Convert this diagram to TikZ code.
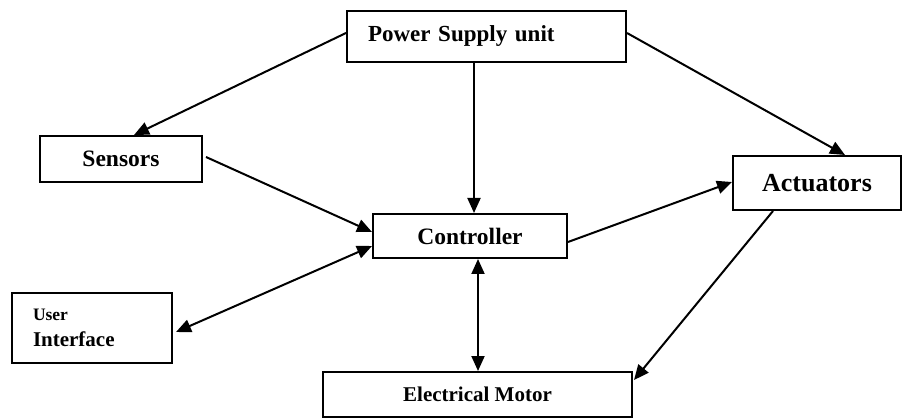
\documentclass[tikz,border=0pt]{standalone}
\usepackage{fontspec}
\setmainfont{Liberation Serif}
\usetikzlibrary{arrows.meta}

\begin{document}
\begin{tikzpicture}[x=1pt,y=-1pt,line width=2pt,
  box/.style={draw,inner sep=0pt,font=\bfseries},
  conn/.style={-{Triangle[length=15pt,width=13pt]}},
  both/.style={{Triangle[length=15pt,width=13pt]}-{Triangle[length=15pt,width=13pt]}}]
\useasboundingbox (0,0) rectangle (904,419);
% blocks
\node[box,minimum width=279pt,minimum height=51pt,inner xsep=21pt,text width=237pt,align=left,font=\bfseries\fontsize{23}{27}\selectfont] (ps) at (486.5,36.5) {Power Supply unit};
\node[box,minimum width=162pt,minimum height=46pt,font=\bfseries\fontsize{23.5}{27}\selectfont] (sen) at (121,159) {Sensors};
\node[box,minimum width=194pt,minimum height=44pt,font=\bfseries\fontsize{23.5}{27}\selectfont] (ctrl) at (470,236) {Controller};
\node[box,minimum width=168pt,minimum height=54pt,font=\bfseries\fontsize{26}{30}\selectfont] (act) at (817,183) {Actuators};
\node[box,minimum width=309pt,minimum height=45pt,font=\bfseries\fontsize{21}{25}\selectfont] (em) at (477.5,394.5) {Electrical Motor};
\node[box,minimum width=160pt,minimum height=70pt,inner xsep=21pt,text width=118pt,align=left,font=\bfseries\fontsize{21}{26}\selectfont] (ui) at (92,328) {{\fontsize{17.5}{26}\selectfont User}\\Interface};
% links
\draw[conn] ([yshift=3.5pt]ps.west) -- ([xshift=13pt]sen.north);
\draw[conn] ([xshift=-12.5pt]ps.south) -- ([xshift=4pt]ctrl.north);
\draw[conn] ([yshift=3.5pt]ps.east) -- ([xshift=28pt]act.north);
\draw[conn] ([xshift=3pt,yshift=2pt]sen.east) -- ([yshift=4pt]ctrl.west);
\draw[both] ([xshift=3pt,yshift=-4pt]ui.east) -- ([yshift=-10pt]ctrl.west);
\draw[conn] ([yshift=-6pt]ctrl.east) -- ([yshift=1pt]act.west);
\draw[both] ([xshift=8pt]ctrl.south) -- ([xshift=.5pt]em.north);
\draw[conn] ([xshift=-44pt]act.south) -- ([xshift=1pt,yshift=14.5pt]em.east);
\end{tikzpicture}
\end{document}
